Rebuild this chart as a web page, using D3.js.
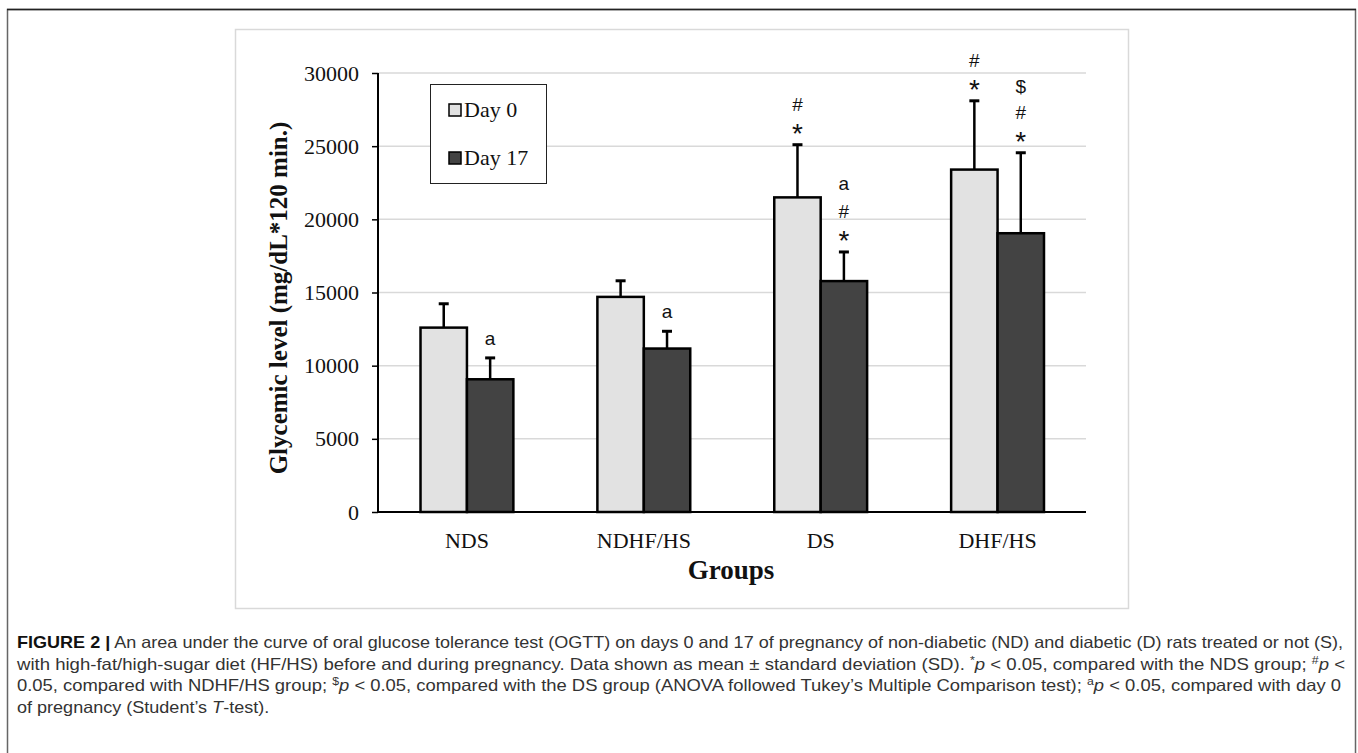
<!DOCTYPE html>
<html><head><meta charset="utf-8">
<script src="https://cdn.jsdelivr.net/npm/d3@7"></script>
<style>
html,body{margin:0;padding:0;background:#fff;}
svg{display:block;}
</style></head>
<body>
<svg id="chart" width="1358" height="753"></svg>
<script>
// ---------- data ----------
const groups = ["NDS", "NDHF/HS", "DS", "DHF/HS"];
const seriesNames = ["Day 0", "Day 17"];
const day0 = [12600, 14700, 21500, 23400];
const day0SD = [1630, 1100, 3600, 4700];
const day17 = [9070, 11170, 15780, 19050];
const day17SD = [1460, 1180, 1990, 5500];
const yTicks = [0, 5000, 10000, 15000, 20000, 25000, 30000];
// significance marks, listed from bottom to top
const day0Marks = [[], [], ["*", "#"], ["*", "#"]];
const day17Marks = [["a"], ["a"], ["*", "#", "a"], ["*", "#", "$"]];
const yTitle = "Glycemic level (mg/dL*120 min.)";
const xTitle = "Groups";

const svg = d3.select("#chart");
const fills = ["#e2e2e2", "#434343"];
const markOffsets = [18, 41, 67];

// outer figure frame
svg.append("rect").attr("x", 7.5).attr("y", 9.5).attr("width", 1348).attr("height", 760)
  .attr("fill", "none").attr("stroke", "#666").attr("stroke-width", 1.5);
svg.append("line").attr("x1", 7).attr("x2", 1356).attr("y1", 9.5).attr("y2", 9.5)
  .attr("stroke", "#222").attr("stroke-width", 1.5);
// chart area frame
svg.append("rect").attr("x", 235.5).attr("y", 29.5).attr("width", 893).attr("height", 579)
  .attr("fill", "#fff").attr("stroke", "#d9d9d9").attr("stroke-width", 1.5);

const y = d3.scaleLinear().domain([0, 30000]).range([512, 73]);
const x = d3.scaleBand().domain(groups).range([378.5, 1086]).paddingInner(0.475).paddingOuter(0.2375);
const xs = d3.scaleBand().domain(seriesNames).range([0, x.bandwidth()]);

// gridlines
svg.append("g").selectAll("line").data(yTicks.filter(d => d > 0)).join("line")
  .attr("x1", 378).attr("x2", 1086).attr("y1", d => y(d)).attr("y2", d => y(d))
  .attr("stroke", "#d9d9d9").attr("stroke-width", 1.5);

// y axis
const yAxis = svg.append("g").attr("transform", "translate(378,0)")
  .call(d3.axisLeft(y).tickValues(yTicks).tickSize(6).tickPadding(13).tickFormat(d3.format("d")));
yAxis.select(".domain").attr("stroke", "#000").attr("stroke-width", 2).attr("d", `M0,${y(30000)}V${y(0)}`);
yAxis.selectAll(".tick line").attr("stroke", "#000").attr("stroke-width", 1.5);
yAxis.selectAll("text").attr("font-family", "'Liberation Serif', serif").attr("font-size", 22).attr("fill", "#111");

// x axis
const xAxis = svg.append("g").attr("transform", "translate(0,512)")
  .call(d3.axisBottom(x).tickSize(0).tickPadding(20));
xAxis.select(".domain").attr("stroke", "#000").attr("stroke-width", 2).attr("d", "M378,0H1086");
xAxis.selectAll("text").attr("font-family", "'Liberation Serif', serif").attr("font-size", 22).attr("fill", "#111");

// bars
const rows = groups.map((g, i) => [
  {g, s: seriesNames[0], v: day0[i], sd: day0SD[i], marks: day0Marks[i], k: 0},
  {g, s: seriesNames[1], v: day17[i], sd: day17SD[i], marks: day17Marks[i], k: 1}
]).flat();

const gBars = svg.append("g");
gBars.selectAll("rect").data(rows).join("rect")
  .attr("x", d => x(d.g) + xs(d.s))
  .attr("y", d => y(d.v))
  .attr("width", xs.bandwidth())
  .attr("height", d => y(0) - y(d.v))
  .attr("fill", d => fills[d.k])
  .attr("stroke", "#000").attr("stroke-width", 2.5);

// error bars and significance marks
const gErr = svg.append("g");
rows.forEach(d => {
  const cx = x(d.g) + xs(d.s) + xs.bandwidth() / 2;
  gErr.append("line").attr("x1", cx).attr("x2", cx).attr("y1", y(d.v)).attr("y2", y(d.v + d.sd))
    .attr("stroke", "#000").attr("stroke-width", 2.5);
  gErr.append("line").attr("x1", cx - 5).attr("x2", cx + 5).attr("y1", y(d.v + d.sd)).attr("y2", y(d.v + d.sd))
    .attr("stroke", "#000").attr("stroke-width", 3);
  d.marks.forEach((m, j) => {
    const cy = y(d.v + d.sd) - markOffsets[j];
    const star = m === "*";
    gErr.append("text").attr("x", cx).attr("y", star ? cy + 16 : (m === "a" ? cy + 5 : cy + 7))
      .attr("text-anchor", "middle")
      .attr("font-family", "'Liberation Sans', Arial, sans-serif")
      .attr("font-size", star ? 28 : 19)
      .attr("fill", "#111").text(m);
  });
});

// axis titles
svg.append("text").attr("transform", "translate(287,298) rotate(-90)")
  .attr("text-anchor", "middle").attr("font-family", "'Liberation Serif', serif")
  .attr("font-weight", "bold").attr("font-size", 25).attr("fill", "#111").text(yTitle);
svg.append("text").attr("x", 731).attr("y", 579).attr("text-anchor", "middle")
  .attr("font-family", "'Liberation Serif', serif").attr("font-weight", "bold").attr("font-size", 27)
  .attr("fill", "#111").text(xTitle);

// legend
const lg = svg.append("g");
lg.append("rect").attr("x", 430.5).attr("y", 84.5).attr("width", 116).attr("height", 99)
  .attr("fill", "#fff").attr("stroke", "#222").attr("stroke-width", 1);
seriesNames.forEach((s, i) => {
  const cy = 110 + i * 48;
  lg.append("rect").attr("x", 449).attr("y", cy - 6).attr("width", 12).attr("height", 12)
    .attr("fill", fills[i]).attr("stroke", "#000").attr("stroke-width", 1.5);
  lg.append("text").attr("x", 464).attr("y", cy + 7).attr("font-family", "'Liberation Serif', serif")
    .attr("font-size", 22).attr("fill", "#111").text(s);
});

// caption
const cap = svg.append("g").attr("font-family", "'Liberation Sans', Arial, sans-serif").attr("font-size", 16.5).attr("fill", "#333");
const lines = [
  {w: 1326, parts: [["FIGURE 2 |", "b"], [" An area under the curve of oral glucose tolerance test (OGTT) on days 0 and 17 of pregnancy of non-diabetic (ND) and diabetic (D) rats treated or not (S),"]]},
  {w: 1328, parts: [["with high-fat/high-sugar diet (HF/HS) before and during pregnancy. Data shown as mean \u00b1 standard deviation (SD). "], ["*", "sup"], ["p", "i"], [" < 0.05, compared with the NDS group; "], ["#", "sup"], ["p", "i"], [" <"]]},
  {w: 1324, parts: [["0.05, compared with NDHF/HS group; "], ["$", "sup"], ["p", "i"], [" < 0.05, compared with the DS group (ANOVA followed Tukey\u2019s Multiple Comparison test); "], ["a", "sup"], ["p", "i"], [" < 0.05, compared with day 0"]]},
  {w: null, parts: [["of pregnancy (Student\u2019s "], ["T", "i"], ["-test)."]]}
];
let ratio = 1;
lines.forEach((ln, i) => {
  const t = cap.append("text").attr("x", 17).attr("y", 648 + i * 21.5);
  ln.parts.forEach(([txt, st]) => {
    const sp = t.append("tspan").text(txt);
    if (st === "b") sp.attr("font-weight", "bold").attr("fill", "#111");
    if (st === "i") sp.attr("font-style", "italic");
    if (st === "sup") sp.attr("font-size", 11).attr("baseline-shift", "super");
  });
  const natural = t.node().getComputedTextLength();
  if (i === 0) ratio = ln.w / natural;
  const target = ln.w != null ? ln.w : natural * ratio;
  t.attr("textLength", target).attr("lengthAdjust", "spacingAndGlyphs");
});
</script>
</body></html>
